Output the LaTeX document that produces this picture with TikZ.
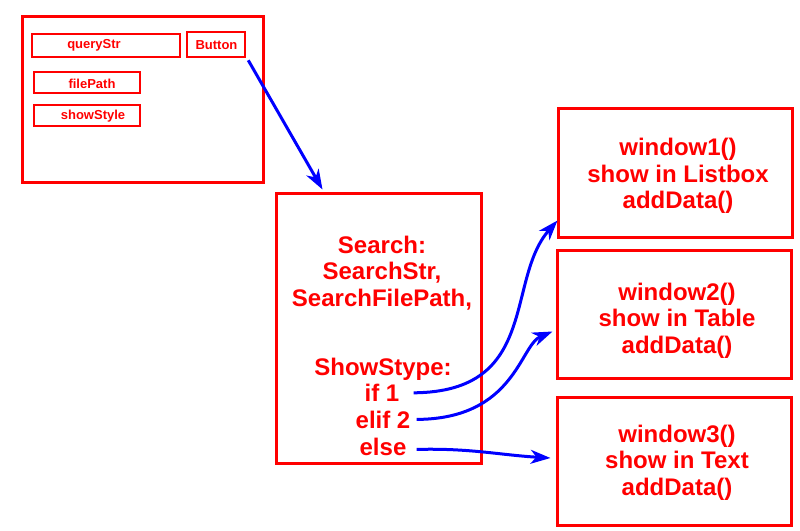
\documentclass[tikz,border=0pt]{standalone}
\usepackage{fontspec}
\setmainfont{Liberation Sans}
\usetikzlibrary{arrows.meta,calc}
\definecolor{pred}{RGB}{255,0,0}
\definecolor{pblue}{RGB}{0,0,255}
\begin{document}
\begin{tikzpicture}[x=1pt,y=-1pt,
  bigbox/.style={draw=pred,line width=3pt,inner sep=0pt,minimum width=#1},
  smallbox/.style={draw=pred,line width=2.5pt,inner sep=0pt,minimum width=#1},
  bigtxt/.style={text=pred,font=\bfseries\fontsize{24}{26.5}\selectfont,align=center,inner sep=0pt},
  smalltxt/.style={text=pred,font=\bfseries\fontsize{13}{15}\selectfont,inner sep=0pt},
  flow/.style={draw=pblue,line width=3pt,-{Stealth[length=20pt,width=14pt,inset=6pt]}}]
\useasboundingbox[fill=white] (0,0) rectangle (800,530);
% form
\node[bigbox=241pt,minimum height=166pt] (form) at (142.5,99) {};
\node[smallbox=148pt,minimum height=23pt] (qbox) at (106,45.5) {};
\node[smalltxt] (qtxt) at (94,45) {queryStr};
\node[smallbox=58pt,minimum height=25pt] (btn) at (216,44.5) {};
\node[smalltxt] (btntxt) at (216.5,45.5) {Button};
\node[smallbox=106pt,minimum height=21pt] (fbox) at (87,82.5) {};
\node[smalltxt] (ftxt) at (92,83.5) {filePath};
\node[smallbox=106pt,minimum height=21pt] (sbox) at (87,115.5) {};
\node[smalltxt] (stxt) at (93,116) {showStyle};
% search box
\node[bigbox=205pt,minimum height=270pt] (search) at (378.5,328) {};
\node[bigtxt] (stop) at (382,273) {Search:\\SearchStr,\\SearchFilePath,};
\node[bigtxt,anchor=base] (stype) at (383,375.5) {ShowStype:};
\node[bigtxt,anchor=base] (if1) at (382,401.5) {if 1};
\node[bigtxt,anchor=base] (elif2) at (383,428) {elif 2};
\node[bigtxt,anchor=base] (else) at (383,455) {else};
% windows
\node[bigbox=234pt,minimum height=129pt] (w1) at (675,172.5) {};
\node[bigtxt] (w1t) at (678,176) {window1()\\show in Listbox\\addData()};
\node[bigbox=234pt,minimum height=128pt] (w2) at (674,314) {};
\node[bigtxt] (w2t) at (677,320.5) {window2()\\show in Table\\addData()};
\node[bigbox=234pt,minimum height=128pt] (w3) at (674,461) {};
\node[bigtxt] (w3t) at (677,462.5) {window3()\\show in Text\\addData()};
% connectors
\coordinate (b0) at ($(btn.south east)+(2,2)$);
\coordinate (b1) at ($(search.north west)+(48,-2)$);
\draw[flow] (b0) -- (b1);
\coordinate (c1s) at ($(if1.east)+(14,0)$);
\coordinate (c1e) at ($(w1.south west)+(1,-18)$);
\draw[flow] (c1s) .. controls (540,392) and (505,280) .. (c1e);
\coordinate (c2s) at ($(elif2.east)+(6,0)$);
\coordinate (c2e) at ($(w2.south west)+(-3,-48)$);
\draw[flow] (c2s) .. controls (515,419) and (520,345) .. (c2e);
\coordinate (c3s) at ($(else.east)+(10,3)$);
\coordinate (c3e) at ($(w3.west)+(-5,-3)$);
\draw[flow] (c3s) .. controls (470,448) and (500,455) .. (c3e);
\end{tikzpicture}
\end{document}
